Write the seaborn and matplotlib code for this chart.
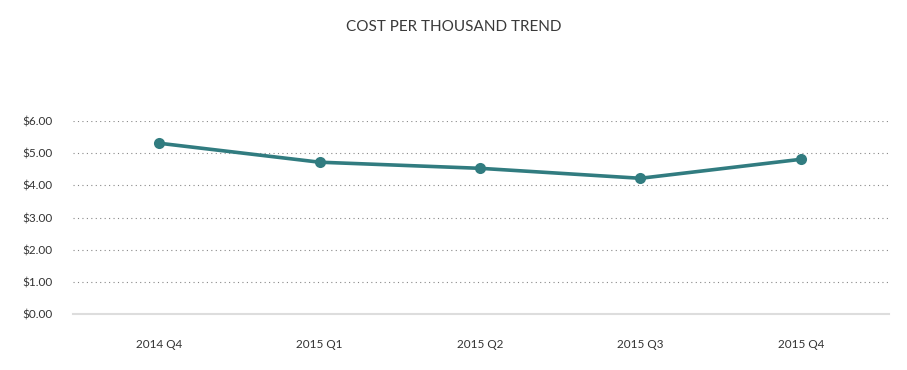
import matplotlib
matplotlib.use("Agg")
import matplotlib.pyplot as plt
import seaborn as sns
import pandas as pd

# data
quarters = ["2014 Q4", "2015 Q1", "2015 Q2", "2015 Q3", "2015 Q4"]
cpm = [5.31, 4.72, 4.53, 4.22, 4.81]
y_ticks = [0, 1, 2, 3, 4, 5, 6]

df = pd.DataFrame({"quarter": quarters, "cpm": cpm})

sns.set_style("white")
plt.rcParams["font.family"] = ["Lato", "DejaVu Sans"]

fig = plt.figure(figsize=(9.07, 3.70), dpi=100)
ax = fig.add_axes([0.0805, 0.151, 0.8995, 0.522])

line_color = "#317c80"
sns.lineplot(data=df, x="quarter", y="cpm", ax=ax, color=line_color,
             linewidth=2.6, marker="o", markersize=8, markeredgewidth=0,
             sort=False)

ax.set_xlim(-0.536, 4.548)
ax.set_ylim(0, 6)
ax.set_yticks(y_ticks)
ax.set_yticklabels([f"${v:.2f}" for v in y_ticks], fontsize=8.5, color="#333333")
ax.tick_params(axis="x", labelsize=8.5, colors="#333333", pad=18, length=0)
ax.tick_params(axis="y", length=0, pad=15)
ax.set_xlabel("")
ax.set_ylabel("")

for v in y_ticks[1:]:
    ax.axhline(v, color="#888888", linestyle=(0, (1, 3)), linewidth=0.8, zorder=0)

for s in ["top", "right", "left"]:
    ax.spines[s].set_visible(False)
ax.spines["bottom"].set_color("#dddddd")
ax.spines["bottom"].set_linewidth(1.5)

fig.text(0.5, 0.927, "COST PER THOUSAND TREND", ha="center", va="center",
         fontsize=11, color="#3a3a3a")

fig.savefig("out.png", dpi=100)
